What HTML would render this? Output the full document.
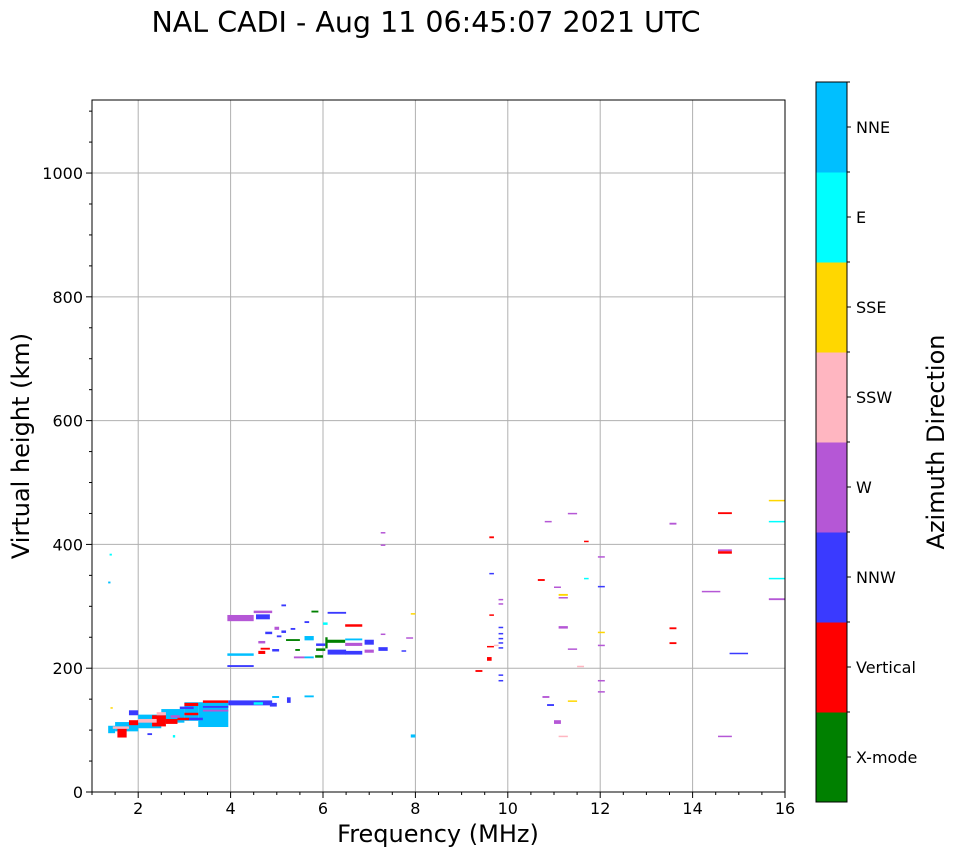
<!DOCTYPE html>
<html><head><meta charset="utf-8"><style>
body{margin:0;background:#fff;font-family:"DejaVu Sans","Liberation Sans",sans-serif}
svg text{font-family:"DejaVu Sans","Liberation Sans",sans-serif}
</style></head><body>
<svg id="chart" width="958" height="857" viewBox="0 0 958 857" xmlns="http://www.w3.org/2000/svg">
<rect width="958" height="857" fill="#fff"/>
<text x="426" y="32" font-size="28.5" text-anchor="middle">NAL CADI - Aug 11 06:45:07 2021 UTC</text>
<g id="grid"></g>
<g id="marks"></g>
<g id="axes"></g>
<g id="cbar"></g>
<text x="438" y="842" font-size="24" text-anchor="middle">Frequency (MHz)</text>
<text transform="translate(29,446) rotate(-90)" font-size="24" text-anchor="middle">Virtual height (km)</text>
<text transform="translate(944,442) rotate(-90)" font-size="24" text-anchor="middle">Azimuth Direction</text>
</svg>
<script>
const categories=["X-mode","Vertical","NNW","W","SSW","SSE","E","NNE"];
const catColors=["#008000","#ff0000","#3a3aff","#b557d6","#ffb6c1","#ffd700","#00ffff","#00bfff"];
const xTicks=[2,4,6,8,10,12,14,16];
const yTicks=[0,200,400,600,800,1000];
// echoes: [freqStart, freqEnd, heightBottom, heightSpan, categoryIndex]
const echoes=[
[3.3,3.95,105,40,7],[3.0,3.3,115,30,7],[2.5,3.0,112,22,7],[2.0,2.5,103,22,7],[1.5,2.0,98,15,7],[1.35,1.5,95,12,7],
[3.4,3.95,144,4,1],[3.95,4.9,140,8,2],[3.4,3.95,136,3,2],[3.4,3.95,130,3,3],[3.0,3.3,124,4,1],[2.9,3.2,134,4,2],
[1.55,1.75,88,17,1],[1.8,2.0,108,8,1],[2.3,2.6,106,18,1],[2.6,2.85,110,8,1],[1.8,2.0,124,8,2],[2.0,2.4,112,6,4],
[1.45,1.8,102,4,4],[2.85,3.1,116,4,1],[3.0,3.3,139,5,1],[3.1,3.4,116,4,2],[2.4,2.6,124,5,4],[2.7,2.9,120,4,3],
[1.4,1.45,135,2,5],[2.2,2.3,92,3,2],[2.75,2.8,88,4,6],[4.85,5.0,138,6,2],[4.5,4.7,141,4,6],
[3.93,4.5,276,10,3],[4.55,4.85,279,8,2],[4.5,4.9,289,4,3],[3.93,4.5,220,4,7],[3.93,4.5,202,3,2],
[4.6,4.75,223,5,1],[4.6,4.75,240,4,3],[4.65,4.85,230,3,1],[4.9,5.05,227,4,2],[4.75,4.9,255,4,2],
[5.2,5.5,244,3,0],[5.6,5.8,245,7,7],[6.09,6.48,241,5,0],[6.48,6.85,267,4,1],[6.1,6.5,222,8,2],
[6.48,6.85,236,5,3],[6.48,6.85,222,6,2],[6.48,6.85,245,3,7],[6.9,7.1,238,8,2],[6.9,7.1,225,5,3],
[7.2,7.4,228,6,2],[6.1,6.5,288,3,2],[5.83,6.0,217,4,0],[5.37,5.6,216,3,3],[5.6,5.8,216,3,7],
[5.85,6.05,228,4,0],[5.85,6.05,236,4,2],[5.4,5.5,228,3,0],[5.3,5.4,262,3,2],[5.6,5.7,273,3,2],
[5.0,5.1,250,3,2],[5.1,5.2,257,4,2],[5.75,5.9,290,3,0],[6.05,6.1,232,18,0],[6.0,6.1,270,4,6],
[5.22,5.3,144,9,2],[5.6,5.8,153,3,7],[4.9,5.05,152,3,7],[5.1,5.2,300,3,2],[4.95,5.05,262,5,3],
[7.25,7.35,418,2,3],[7.25,7.35,398,2,3],[7.25,7.35,254,2,3],[7.9,8.0,287,2,5],[7.8,7.95,248,2,3],
[7.7,7.8,227,2,2],[7.9,8.0,88,5,7],
[9.6,9.7,410,3,1],[9.6,9.7,352,2,2],[9.6,9.7,285,2,1],[9.55,9.7,234,2,1],[9.55,9.65,212,6,1],[9.3,9.45,194,3,1],
[9.8,9.9,310,2,3],[9.8,9.9,303,2,3],[9.8,9.9,265,2,2],[9.8,9.9,255,2,2],[9.8,9.9,247,2,2],[9.8,9.9,240,2,2],
[9.8,9.9,232,2,2],[9.7,9.8,236,2,4],[9.8,9.9,188,2,2],[9.8,9.9,179,2,2],
[10.8,10.95,436,2,3],[10.65,10.8,341,3,1],[11.0,11.15,330,2,3],[11.1,11.3,317,3,5],[11.1,11.3,313,2,3],
[11.1,11.3,264,4,3],[11.3,11.5,449,2,3],[11.65,11.75,404,2,1],[11.65,11.75,344,2,6],[11.3,11.5,230,2,3],
[11.3,11.5,146,2,5],[10.75,10.9,152,3,3],[10.85,11.0,139,3,2],[11.0,11.15,110,6,3],[11.1,11.3,89,2,4],[11.5,11.65,202,2,4],
[11.95,12.1,379,2,3],[11.95,12.1,331,2,2],[11.95,12.1,257,2,5],[11.95,12.1,236,2,3],[11.95,12.1,179,2,3],[11.95,12.1,161,2,3],
[13.5,13.65,432,3,3],[13.5,13.65,263,3,1],[13.5,13.65,239,3,1],[14.2,14.6,323,2,3],[14.55,14.85,449,3,1],
[14.55,14.85,389,3,3],[14.55,14.85,385,4,1],[14.55,14.85,89,2,3],[14.8,15.2,224,1,2],
[15.65,16,470,2,5],[15.65,16,436,2,6],[15.65,16,344,2,6],[15.65,16,310,3,3],
[1.38,1.43,382,3,6],[1.35,1.4,337,3,7]
];
const NS="http://www.w3.org/2000/svg";
const L=92,R=785,T=100,B=792,xMin=1,xMax=16,yMin=0,yMax=1118;
const xs=f=>L+(f-xMin)/(xMax-xMin)*(R-L);
const ys=h=>B-(h-yMin)/(yMax-yMin)*(B-T);
function mk(tag,attrs,parent){const e=document.createElementNS(NS,tag);for(const k in attrs)e.setAttribute(k,attrs[k]);parent.appendChild(e);return e;}
const grid=document.getElementById('grid'),marks=document.getElementById('marks'),axes=document.getElementById('axes'),cbar=document.getElementById('cbar');
xTicks.forEach(v=>{const g=mk('line',{x1:xs(v),x2:xs(v),y1:T,y2:B,stroke:'#b0b0b0','stroke-width':1},grid);

});
yTicks.forEach(v=>{const g=mk('line',{x1:L,x2:R,y1:ys(v),y2:ys(v),stroke:'#b0b0b0','stroke-width':1},grid);

});
echoes.forEach(d=>{const x0=xs(d[0]),x1=xs(d[1]),y1=ys(d[2]),y0=ys(d[2]+d[3]);
const r=mk('rect',{x:x0,y:y0,width:Math.max(1,x1-x0),height:Math.max(1.5,y1-y0),fill:catColors[d[4]]},marks);

});
const frame=mk('rect',{x:L,y:T,width:R-L,height:B-T,fill:'none',stroke:'#000','stroke-width':1},axes);


for(let v=1;v<=16;v+=0.5){const maj=xTicks.includes(v);mk('line',{x1:xs(v),x2:xs(v),y1:B,y2:B+(maj?6:3),stroke:'#000'},axes);}
for(let v=0;v<=1100;v+=50){const maj=yTicks.includes(v);mk('line',{x1:L,x2:L-(maj?6:3),y1:ys(v),y2:ys(v),stroke:'#000'},axes);}
xTicks.forEach(v=>{const t=mk('text',{x:xs(v),y:814,'font-size':16,'text-anchor':'middle'},axes);t.textContent=v;

});
yTicks.forEach(v=>{const t=mk('text',{x:L-9,y:ys(v)+6,'font-size':16,'text-anchor':'end'},axes);t.textContent=v;

});
const cT=82,cB=802,cL=816,cW=31,seg=(cB-cT)/categories.length;
categories.forEach((c,i)=>{const y=cB-(i+1)*seg;
const r=mk('rect',{x:cL,y:y,width:cW,height:seg+0.5,fill:catColors[i]},cbar);


mk('line',{x1:cL+cW,x2:cL+cW+4,y1:y+seg/2,y2:y+seg/2,stroke:'#000'},cbar);
mk('line',{x1:cL+cW,x2:cL+cW+3,y1:y,y2:y,stroke:'#000'},cbar);
const t=mk('text',{x:856,y:y+seg/2+6,'font-size':16},cbar);t.textContent=c;

});
mk('rect',{x:cL,y:cT,width:cW,height:cB-cT,fill:'none',stroke:'#000'},cbar);
</script>
</body></html>
